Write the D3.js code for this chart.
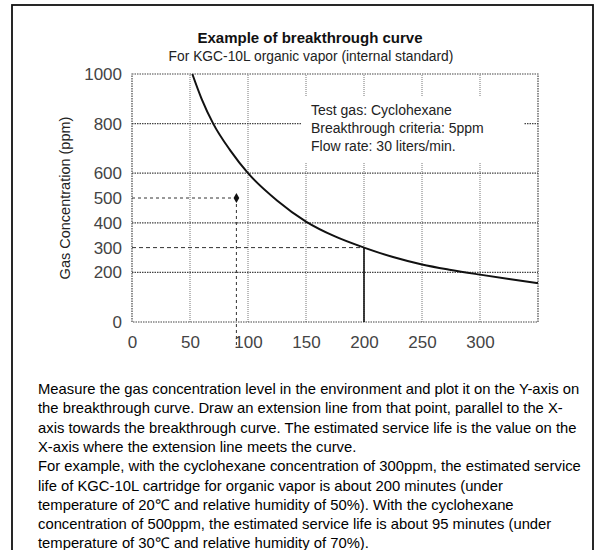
<!DOCTYPE html>
<html>
<head>
<meta charset="utf-8">
<script src="https://cdn.jsdelivr.net/npm/d3@7"></script>
<style>
  body { margin: 0; background: #fff; }
  svg { display: block; font-family: "Liberation Sans", Arial, sans-serif; }
</style>
</head>
<body>
<div class="visual"></div>
<script>
// data
const curveX = [52, 60, 70, 85, 100, 125, 150, 175, 200, 225, 250, 275, 300, 325, 350];
const curveY = [1000, 900, 800, 690, 600, 490, 405, 345, 300, 262, 232, 210, 191, 173, 157];
const xTicks = [0, 50, 100, 150, 200, 250, 300];
const yTicks = [0, 200, 300, 400, 500, 600, 800, 1000];
const gridX = [50, 100, 150, 200, 250, 300];
const gridY = [200, 400, 600, 800];
const samplePoint = [90, 500];   // 500ppm -> about 95 min (30°C, 70%)
const readPoint = [200, 300];    // 300ppm -> about 200 min on the curve
const notes = ["Test gas: Cyclohexane", "Breakthrough criteria: 5ppm", "Flow rate: 30 liters/min."];
const paragraph = [
  "Measure the gas concentration level in the environment and plot it on the Y-axis on",
  "the breakthrough curve. Draw an extension line from that point, parallel to the X-",
  "axis towards the breakthrough curve. The estimated service life is the value on the",
  "X-axis where the extension line meets the curve.",
  "For example, with the cyclohexane concentration of 300ppm, the estimated service",
  "life of KGC-10L cartridge for organic vapor is about 200 minutes (under",
  "temperature of 20\u2103 and relative humidity of 50%). With the cyclohexane",
  "concentration of 500ppm, the estimated service life is about 95 minutes (under",
  "temperature of 30\u2103 and relative humidity of 70%)."
];

const width = 600, height = 550;
const svg = d3.select(".visual").append("svg")
  .attr("width", width)
  .attr("height", height);

// outer frame
svg.append("rect")
  .attr("x", 12).attr("y", 5)
  .attr("width", 581).attr("height", 570)
  .attr("fill", "none").attr("stroke", "#111").attr("stroke-width", 1.8);

const x = d3.scaleLinear().domain([0, 350]).range([132, 538]);
const y = d3.scaleLinear().domain([0, 1000]).range([322, 74]);

// titles
svg.append("text")
  .attr("x", 310).attr("y", 43)
  .attr("text-anchor", "middle")
  .style("font-size", "15px").style("font-weight", "bold")
  .attr("fill", "#111")
  .text("Example of breakthrough curve");
svg.append("text")
  .attr("x", 311).attr("y", 61)
  .attr("text-anchor", "middle")
  .style("font-size", "13.8px")
  .attr("fill", "#222")
  .text("For KGC-10L organic vapor (internal standard)");

// grid
const grid = svg.append("g");
grid.selectAll(".gx").data(gridX).enter().append("line")
  .attr("x1", d => x(d)).attr("x2", d => x(d))
  .attr("y1", y(0)).attr("y2", y(1000))
  .attr("stroke", "#777").attr("stroke-width", 1).attr("stroke-dasharray", "1,1");
grid.selectAll(".gy").data(gridY).enter().append("line")
  .attr("x1", x(0)).attr("x2", x(350))
  .attr("y1", d => y(d)).attr("y2", d => y(d))
  .attr("stroke", "#444").attr("stroke-width", 1.2).attr("stroke-dasharray", "1.5,1");

// plot frame (dotted)
svg.append("rect")
  .attr("x", x(0)).attr("y", y(1000))
  .attr("width", x(350) - x(0)).attr("height", y(0) - y(1000))
  .attr("fill", "none").attr("stroke", "#444").attr("stroke-width", 1.2)
  .attr("stroke-dasharray", "1.5,1");

// note box covers the grid
const noteG = svg.append("g");
noteG.append("rect")
  .attr("x", 302).attr("y", 97)
  .attr("width", 222).attr("height", 66)
  .attr("fill", "#fff");
noteG.selectAll("text").data(notes).enter().append("text")
  .attr("x", 311)
  .attr("y", (d, i) => 115 + i * 18)
  .style("font-size", "14px")
  .attr("fill", "#222")
  .text(d => d);

// guide lines
const guides = svg.append("g").attr("stroke", "#333").attr("stroke-width", 1);
guides.append("line")
  .attr("x1", x(0)).attr("x2", x(samplePoint[0]))
  .attr("y1", y(samplePoint[1])).attr("y2", y(samplePoint[1]))
  .attr("stroke-dasharray", "3,3");
guides.append("line")
  .attr("x1", x(samplePoint[0])).attr("x2", x(samplePoint[0]))
  .attr("y1", y(samplePoint[1])).attr("y2", y(0) + 26)
  .attr("stroke-dasharray", "3,3");
guides.append("line")
  .attr("x1", x(0)).attr("x2", x(readPoint[0]))
  .attr("y1", y(readPoint[1])).attr("y2", y(readPoint[1]))
  .attr("stroke-dasharray", "4,3");
guides.append("line")
  .attr("x1", x(readPoint[0])).attr("x2", x(readPoint[0]))
  .attr("y1", y(readPoint[1])).attr("y2", y(0))
  .attr("stroke", "#111").attr("stroke-width", 1.6);

// breakthrough curve
const line = d3.line()
  .x((d, i) => x(curveX[i]))
  .y(d => y(d))
  .curve(d3.curveMonotoneX);
svg.append("path")
  .datum(curveY)
  .attr("d", line)
  .attr("fill", "none")
  .attr("stroke", "#111")
  .attr("stroke-width", 2);

// sample point
svg.append("path")
  .attr("d", d3.symbol(d3.symbolDiamond, 28)())
  .attr("transform", "translate(" + x(samplePoint[0]) + "," + y(samplePoint[1]) + ")")
  .attr("fill", "#111");

// axes labels (no tick marks)
const yAxis = svg.append("g")
  .attr("transform", "translate(" + x(0) + ",0)")
  .call(d3.axisLeft(y).tickValues(yTicks).tickFormat(d3.format("d")).tickSize(0).tickPadding(10));
const xAxis = svg.append("g")
  .attr("transform", "translate(0," + y(0) + ")")
  .call(d3.axisBottom(x).tickValues(xTicks).tickFormat(d3.format("d")).tickSize(0).tickPadding(14));
[xAxis, yAxis].forEach(a => {
  a.select(".domain").remove();
  a.selectAll("text")
    .style("font-family", "'Liberation Sans', Arial, sans-serif")
    .style("font-size", "17px")
    .attr("fill", "#444");
});

svg.append("text")
  .attr("transform", "rotate(-90)")
  .attr("x", -198).attr("y", 70)
  .attr("text-anchor", "middle")
  .style("font-size", "14.5px")
  .attr("fill", "#222")
  .text("Gas Concentration (ppm)");

// explanation paragraph
svg.append("g").selectAll("text")
  .data(paragraph).enter().append("text")
  .attr("x", 38)
  .attr("y", (d, i) => 394 + i * 19.3)
  .style("font-size", "14.8px")
  .attr("fill", "#000")
  .text(d => d);
</script>
</body>
</html>
